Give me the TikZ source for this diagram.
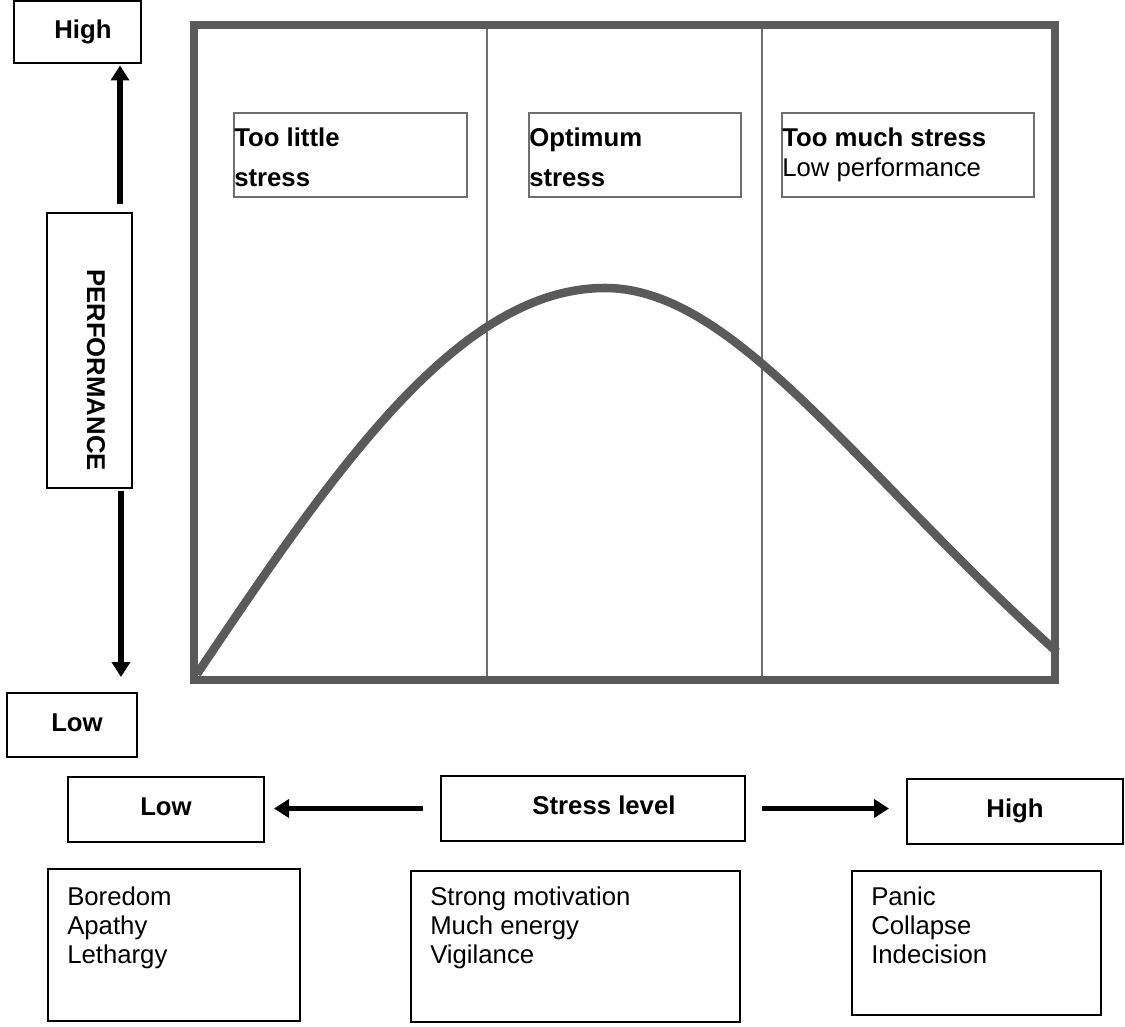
\documentclass[tikz,border=0pt]{standalone}
\usepackage{fontspec}
\setmainfont{Liberation Sans}
\usetikzlibrary{arrows.meta,calc}
\definecolor{framegray}{HTML}{5A5A5A}
\definecolor{rulegray}{HTML}{6E6E6E}

\begin{document}
\begin{tikzpicture}[x=0.75pt,y=-0.75pt,
  box/.style={draw=black, line width=1.5pt, inner sep=0pt},
  graybox/.style={draw=rulegray, line width=1.5pt, inner sep=0pt},
  bigbold/.style={font=\bfseries\fontsize{19.3}{23}\selectfont},
  boxlbl/.style={text height=14.25pt, text depth=4.8pt},
  zonetext/.style={align=left, anchor=north west, inner sep=0pt},
  zonebold/.style={zonetext, font=\bfseries\fontsize{19.3}{30}\selectfont},
  zonemix/.style={zonetext, font=\fontsize{19.3}{22.5}\selectfont},
  listtext/.style={zonetext, font=\fontsize{19.3}{21.75}\selectfont},
  axisarrow/.style={line width=4.1pt, -{Triangle[width=13.5pt,length=11.25pt]}},
  curveline/.style={framegray, line width=6.4pt},
  divider/.style={rulegray, line width=1.1pt}
]
\useasboundingbox (0,0) rectangle (1125,1027);

% ---------- chart area ----------
\draw[divider] (487,25.5) -- (487,679.5);
\draw[divider] (762,25.5) -- (762,679.5);

% performance curve: rising quarter wave, then a longer falling flank
\draw[curveline] (197,674)
  .. controls (333.4,471.3) and (457.9,288) .. (605,288)
  .. controls (735,288) and (857,472) .. (1057,652);

% outer frame
\node[draw=framegray, line width=6pt, minimum width=646.1pt,
      minimum height=490.5pt, inner sep=0pt] (frame) at (624.25,352.5) {};

% zone captions
\node[graybox, minimum width=174.75pt, minimum height=63pt] (little) at (350.5,155) {};
\node[zonebold] (littletxt) at ([shift={(1,9)}]little.north west)
  {\rule{0pt}{18.75pt}Too little\\stress};

\node[graybox, minimum width=159pt, minimum height=63pt] (optimum) at (635,155) {};
\node[zonebold] (optimumtxt) at ([shift={(1,9)}]optimum.north west)
  {\rule{0pt}{18.75pt}Optimum\\stress};

\node[graybox, minimum width=189pt, minimum height=63pt] (much) at (908,155) {};
\node[zonemix] (muchtxt) at ([shift={(1,9)}]much.north west)
  {\rule{0pt}{18.75pt}\textbf{Too much stress}\\Low performance};

% ---------- vertical axis ----------
\node[box, minimum width=95.25pt, minimum height=46.5pt, bigbold, boxlbl]
  (perfhigh) at (77.5,32) {\hspace*{8.25pt}High};
\node[box, minimum width=63.75pt, minimum height=206.25pt] (perf) at (89.5,350.5) {};
\node[bigbold, rotate=-90, inner sep=0pt] (perflbl)
  at ([shift={(6.5,19.5)}]perf.center) {PERFORMANCE};
\node[box, minimum width=97.5pt, minimum height=48pt, bigbold, boxlbl]
  (perflow) at (72,725) {\hspace*{7.5pt}Low};

\coordinate (upbase) at ([xshift=22.9pt]perf.north);
\coordinate (downbase) at ([xshift=23.6pt]perf.south);
\draw[axisarrow, shorten <=6pt, shorten >=1.1pt] (upbase) -- (upbase |- perfhigh.south);
\draw[axisarrow, shorten <=1.5pt, shorten >=11.25pt] (downbase) -- (downbase |- perflow.north);

% ---------- horizontal axis ----------
\node[box, minimum width=147pt, minimum height=48.75pt, bigbold, boxlbl]
  (stresslow) at (166,809.5) {Low};
\node[box, minimum width=228pt, minimum height=48.75pt, bigbold, boxlbl]
  (stress) at (593,808.5) {\hspace*{16.5pt}Stress level};
\node[box, minimum width=162pt, minimum height=48.75pt, bigbold, boxlbl]
  (stresshigh) at (1015,811.5) {High};

\draw[axisarrow, shorten <=12.75pt, shorten >=6.75pt] (stress.west) -- (stress.west -| stresslow.east);
\draw[axisarrow, shorten <=12pt, shorten >=12.75pt] (stress.east) -- (stress.east -| stresshigh.west);

% ---------- symptom lists ----------
\node[box, minimum width=189pt, minimum height=114pt] (lowlist) at (174,945) {};
\node[listtext] (lowlisttxt) at ([shift={(20,12)}]lowlist.north west)
  {\rule{0pt}{18.75pt}Boredom\\Apathy\\Lethargy};

\node[box, minimum width=246.75pt, minimum height=113.25pt] (midlist) at (575.5,946.5) {};
\node[listtext] (midlisttxt) at ([shift={(20,10)}]midlist.north west)
  {\rule{0pt}{18.75pt}Strong motivation\\Much energy\\Vigilance};

\node[box, minimum width=186.75pt, minimum height=108pt] (highlist) at (976.5,943) {};
\node[listtext] (highlisttxt) at ([shift={(20,10)}]highlist.north west)
  {\rule{0pt}{18.75pt}Panic\\Collapse\\Indecision};
\end{tikzpicture}
\end{document}
